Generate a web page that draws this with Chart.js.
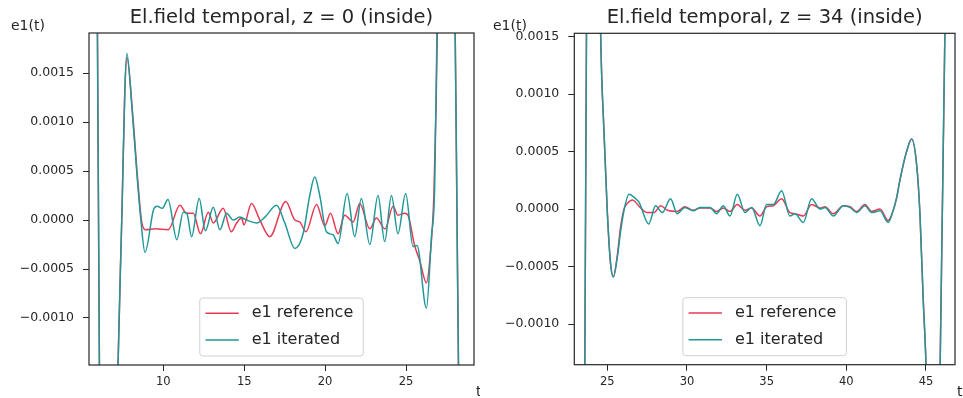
<!DOCTYPE html>
<html>
<head>
<meta charset="utf-8">
<script src="https://cdn.jsdelivr.net/npm/chart.js@4"></script>
<style>
  body { margin: 0; background: #fff; }
  .panel { position: absolute; top: 0; }
</style>
</head>
<body>
<div class="panel" style="left:0"><canvas id="fieldZ0" width="480" height="398"></canvas></div>
<div class="panel" style="left:480px"><canvas id="fieldZ34" width="483" height="398"></canvas></div>
<script>
// z = 0 slice
const tRefZ0 = [5.4, 5.7, 5.9, 6.08, 6.4, 6.8, 7.05, 7.2, 7.45, 7.62, 7.75, 8.1, 8.4, 8.65, 8.9, 9.5, 10.3, 11.03, 11.44, 11.85,
  12.3, 12.78, 13.09, 13.7, 14.2, 14.53, 14.84, 14.98, 15.45, 15.97, 16.58, 17.57, 18.13, 18.44, 18.81, 19.47, 19.98, 20.33, 20.8,
  21.21, 21.73, 22.14, 22.76, 23.17, 23.7, 24.2, 24.5, 24.92, 25.12, 25.53, 25.84, 26.26, 26.5, 26.72, 26.86, 26.95, 27.2, 27.5,
  27.8, 28.0, 28.14, 28.28, 28.6, 29.2];
const e1RefZ0 = [0.008, 0.006, 0.0028, -0.0022, -0.006, -0.005, -0.003, -0.0015, 0.0001, 0.0013, 0.00166, 0.0011, 0.00045, 0.0,
  -0.0001, -0.00009, -0.0001, 0.00015, 0.00007, 0.00007, -0.00014, 0.00008, -0.00003, 0.00012, -0.00012, -0.00003, 0.00002,
  -0.00005, 0.00017, 0.0, -0.00017, 0.00019, 0.0, -0.00002, -0.00012, 0.00016, -0.00006, 0.00007, -0.00014, 0.00005, -0.00002,
  0.00017, -0.00009, 0.00002, -0.00009, 0.00014, 0.00005, 0.00007, 0.00005, -0.00026, -0.00041, -0.00064, -0.00035, 0.00025,
  0.0012, 0.0021, 0.004, 0.005, 0.004, 0.0025, 0.0002, -0.0021, -0.005, -0.008];
const tIterZ0 = [5.4, 5.7, 5.9, 6.08, 6.4, 6.8, 7.05, 7.2, 7.45, 7.62, 7.75, 8.09, 8.4, 8.6, 8.87, 9.43, 9.63, 9.94, 10.29, 10.84,
  11.23, 11.45, 11.75, 12.22, 12.6, 13.09, 13.5, 13.91, 14.32, 14.73, 15.14, 15.76, 16.28, 17.0, 17.51, 18.13, 18.64, 19.05, 19.36,
  19.67, 20.08, 20.49, 20.8, 21.36, 21.83, 22.24, 22.76, 23.27, 23.68, 24.1, 24.5, 24.98, 25.43, 25.68, 26.26, 26.57, 26.77,
  26.91, 27.2, 27.5, 27.8, 28.0, 28.14, 28.28, 28.6, 29.2];
const e1IterZ0 = [0.008, 0.006, 0.0028, -0.0022, -0.006, -0.005, -0.003, -0.0015, 0.0001, 0.0013, 0.0017, 0.00109, 0.00041,
  0.00003, -0.00033, 0.00012, 0.00014, 0.00012, 0.00021, -0.0002, 0.00008, 0.00007, -0.00017, 0.00022, -0.00011, 0.00013,
  -0.0001, 0.00007, 0.0, 0.00003, 0.0, -0.00003, 0.00003, 0.00015, -0.00003, -0.00029, -0.00014, 0.00025, 0.00044, 0.00025,
  -0.00012, -0.00015, -0.00024, 0.00027, -0.00017, 0.00022, -0.00025, 0.00025, -0.00022, 0.00025, -0.00014, 0.00027, -0.00027,
  -0.00026, -0.0009, -0.00017, 0.00034, 0.0019, 0.004, 0.005, 0.004, 0.0025, 0.0002, -0.0021, -0.005, -0.008];

// z = 34 slice
const tRefZ34 = [22.93, 23.3, 23.58, 23.7, 23.9, 24.2, 24.45, 24.58, 24.79, 25.0, 25.21, 25.38, 25.63, 25.84, 26.05, 26.26,
  26.57, 27.09, 27.51, 27.93, 28.35, 28.77, 29.39, 29.87, 30.4, 30.82, 31.44, 31.86, 32.28, 32.7, 33.16, 33.64, 34.06, 34.58,
  35.0, 35.42, 35.94, 36.46, 36.78, 37.3, 37.82, 38.35, 38.66, 39.18, 39.81, 40.23, 40.65, 41.17, 41.59, 42.11, 42.63, 42.9,
  43.16, 43.36, 43.78, 44.1, 44.41, 44.62, 44.82, 45.0, 45.3, 45.6, 45.8, 46.27, 46.6, 46.82];
const e1RefZ34 = [-0.006, -0.004, -0.0016, 0.0017, 0.004, 0.005, 0.003, 0.00155, 0.00068, -0.00002, -0.00048, -0.00059, -0.0004,
  -0.00015, 0.0, 0.00005, 0.00008, 0.00001, -0.00003, -0.00003, 0.00003, -0.00001, -0.00002, 0.00002, -0.00001, 0.00001,
  0.00001, -0.00002, 0.00001, -0.00002, 0.00004, -0.00001, 0.00001, -0.00006, 0.00002, 0.00003, 0.00009, -0.00003, -0.00004,
  -0.00006, 0.00004, 0.00001, 0.00002, -0.00004, 0.00003, 0.00002, -0.00002, 0.00004, -0.00002, 0.0, -0.0001, -0.00003, 0.0001,
  0.00025, 0.0005, 0.00061, 0.00039, -0.00004, -0.00077, -0.00135, -0.003, -0.0035, -0.0022, 0.0024, 0.006, 0.008];
const tIterZ34 = [22.93, 23.3, 23.58, 23.7, 23.9, 24.2, 24.45, 24.58, 24.79, 25.0, 25.21, 25.38, 25.63, 25.84, 26.05, 26.36,
  26.78, 26.99, 27.6, 28.03, 28.45, 28.97, 29.39, 29.87, 30.4, 30.82, 31.44, 31.86, 32.28, 32.7, 33.16, 33.64, 34.06, 34.58,
  35.0, 35.42, 35.94, 36.46, 36.78, 37.3, 37.82, 38.35, 38.66, 39.18, 39.81, 40.23, 40.65, 41.17, 41.59, 42.11, 42.63, 42.9,
  43.16, 43.36, 43.78, 44.1, 44.41, 44.62, 44.82, 45.0, 45.3, 45.6, 45.8, 46.27, 46.6, 46.82];
const e1IterZ34 = [-0.006, -0.004, -0.0016, 0.0017, 0.004, 0.005, 0.003, 0.00155, 0.00068, -0.00002, -0.00048, -0.00059,
  -0.00042, -0.00019, -0.00001, 0.00013, 0.00009, 0.00006, -0.00013, 0.00003, -0.00003, 0.00009, -0.00004, 0.000015, -0.000015,
  0.000015, 0.000015, -0.00004, 0.00003, -0.00006, 0.00013, -0.00003, 0.000015, -0.000145, 0.00004, 0.00004, 0.00016, -0.00006,
  -0.00004, -0.000116, 0.00009, 0.0, 0.000015, -0.00006, 0.00003, 0.000015, -0.00003, 0.00003, -0.00003, -0.000015, -0.000116,
  -0.00003, 0.0001, 0.00025, 0.0005, 0.00061, 0.00039, -0.00004, -0.00077, -0.00135, -0.003, -0.0035, -0.0022, 0.0024, 0.006,
  0.008];

const seriesLabels = ['e1 reference', 'e1 iterated'];
const seriesColors = ['#e83a55', '#209898'];
const panelTitles = ['El.field temporal, z = 0 (inside)', 'El.field temporal, z = 34 (inside)'];
const xTicksZ0 = [10, 15, 20, 25];
const xTicksZ34 = [25, 30, 35, 40, 45];
const yTicks = [-0.001, -0.0005, 0, 0.0005, 0.001, 0.0015];

const FONT = "'DejaVu Sans', sans-serif";
const INK = '#262626';

const toPoints = (ts, vs) => ts.map((t, i) => ({ x: t, y: vs[i] }));
const fmtY = v => v.toFixed(4).replace('-', '\u2212');

// frame, title, axis names and the lower-centre legend
const decorations = {
  id: 'decorations',
  afterDraw(chart, args, opts) {
    const { ctx, chartArea: a } = chart;
    ctx.save();
    ctx.strokeStyle = INK;
    ctx.lineWidth = 1.2;
    ctx.strokeRect(a.left, a.top, a.right - a.left, a.bottom - a.top);

    ctx.fillStyle = INK;
    ctx.textBaseline = 'alphabetic';
    ctx.textAlign = 'center';
    ctx.font = `19.5px ${FONT}`;
    ctx.fillText(opts.title, (a.left + a.right) / 2, 22.5);

    ctx.textAlign = 'left';
    ctx.font = `14px ${FONT}`;
    ctx.fillText('e1(t)', opts.yNameX, 30);
    ctx.fillText('t', a.right + 2, 396);

    // legend
    ctx.font = `16px ${FONT}`;
    const sets = chart.data.datasets;
    const textW = Math.max(...sets.map(d => ctx.measureText(d.label).width));
    const w = 52 + textW + 10, h = 58;
    const x0 = (a.left + a.right) / 2 - w / 2;
    const y0 = a.bottom - 9 - h;
    ctx.beginPath();
    ctx.roundRect(x0, y0, w, h, 3);
    ctx.fillStyle = 'rgba(255,255,255,0.8)';
    ctx.fill();
    ctx.strokeStyle = '#d0d0d0';
    ctx.lineWidth = 1;
    ctx.stroke();
    ctx.textBaseline = 'middle';
    sets.forEach((d, i) => {
      const y = y0 + 15.3 + i * 26.7;
      ctx.strokeStyle = d.borderColor;
      ctx.lineWidth = 1.5;
      ctx.beginPath();
      ctx.moveTo(x0 + 5.7, y);
      ctx.lineTo(x0 + 39, y);
      ctx.stroke();
      ctx.fillStyle = INK;
      ctx.fillText(d.label, x0 + 52, y);
    });
    ctx.restore();
  }
};

function makePanel(id, cfg) {
  return new Chart(document.getElementById(id), {
    type: 'line',
    data: {
      datasets: [
        { label: seriesLabels[0], data: toPoints(cfg.tRef, cfg.ref), borderColor: seriesColors[0], order: 2 },
        { label: seriesLabels[1], data: toPoints(cfg.tIter, cfg.iter), borderColor: seriesColors[1], order: 1 }
      ].map(d => Object.assign(d, {
        borderWidth: 1.5, pointRadius: 0, fill: false, tension: 0.4, cubicInterpolationMode: 'monotone'
      }))
    },
    options: {
      responsive: false,
      animation: false,
      events: [],
      layout: { padding: { top: cfg.top, right: cfg.right, left: 0, bottom: 0 } },
      scales: {
        x: {
          type: 'linear',
          min: cfg.xMin,
          max: cfg.xMax,
          afterBuildTicks: s => { s.ticks = cfg.xTicks.map(v => ({ value: v })); },
          afterFit: s => { s.height = cfg.xHeight; },
          grid: { drawOnChartArea: false, drawTicks: true, tickLength: 6, color: INK },
          border: { display: false },
          ticks: { font: { family: FONT, size: 11.5 }, color: INK, padding: 4, maxRotation: 0, autoSkip: false }
        },
        y: {
          type: 'linear',
          min: cfg.yMin,
          max: cfg.yMax,
          afterBuildTicks: s => { s.ticks = yTicks.map(v => ({ value: v })); },
          afterFit: s => { s.width = cfg.yWidth; },
          grid: { drawOnChartArea: false, drawTicks: true, tickLength: 6, color: INK },
          border: { display: false },
          ticks: { font: { family: FONT, size: 12.5 }, color: INK, padding: 9, callback: v => fmtY(v) }
        }
      },
      plugins: {
        legend: { display: false },
        tooltip: { enabled: false },
        decorations: { title: cfg.title, yNameX: cfg.yNameX }
      }
    },
    plugins: [decorations]
  });
}

makePanel('fieldZ0', {
  tRef: tRefZ0, ref: e1RefZ0, tIter: tIterZ0, iter: e1IterZ0,
  xMin: 5.41, xMax: 29.2, yMin: -0.00148, yMax: 0.00191, xTicks: xTicksZ0,
  top: 33, right: 6, yWidth: 89, xHeight: 33, title: panelTitles[0], yNameX: 11
});

makePanel('fieldZ34', {
  tRef: tRefZ34, ref: e1RefZ34, tIter: tIterZ34, iter: e1IterZ34,
  xMin: 22.93, xMax: 46.82, yMin: -0.001354, yMax: 0.00153, xTicks: xTicksZ34,
  top: 33.3, right: 8, yWidth: 94.3, xHeight: 33.3, title: panelTitles[1], yNameX: 13
});
</script>
</body>
</html>
